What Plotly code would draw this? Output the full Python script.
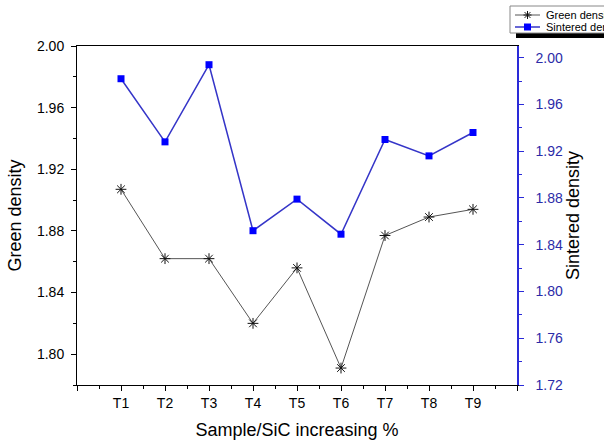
import plotly.graph_objects as go

samples = ["T1", "T2", "T3", "T4", "T5", "T6", "T7", "T8", "T9"]
sample_pos = [1, 2, 3, 4, 5, 6, 7, 8, 9]
green_density = [1.907, 1.862, 1.862, 1.820, 1.856, 1.791, 1.877, 1.889, 1.894]
sintered_density = [1.982, 1.928, 1.994, 1.852, 1.879, 1.849, 1.930, 1.916, 1.936]
legend_names = ["Green density", "Sintered density"]

FONT = "Liberation Sans, Arial, sans-serif"
BLUE_LINE = "#2a2ad8"
BLUE_TEXT = "#2b2ba8"
GREEN_LINE = "#555555"
GREEN_MARK = "#111111"
SINT_LINE = "#3535c8"
SINT_MARK = "#0000ff"

# plot area in pixels
L, R, T, B, W, H = 77, 87, 46, 58, 604, 443
PW, PH = W - L - R, H - T - B


def px(x):
    return (x - L) / PW


def py(y):
    return (H - B - y) / PH


fig = go.Figure()

fig.add_trace(go.Scatter(
    x=sample_pos, y=green_density, name=legend_names[0],
    mode="lines+markers",
    line=dict(color=GREEN_LINE, width=1),
    marker=dict(symbol="asterisk-open", size=9, color=GREEN_MARK,
                line=dict(color=GREEN_MARK, width=1)),
    yaxis="y", showlegend=False,
))

fig.add_trace(go.Scatter(
    x=sample_pos, y=sintered_density, name=legend_names[1],
    mode="lines+markers",
    line=dict(color=SINT_LINE, width=1.5),
    marker=dict(symbol="square", size=7, color=SINT_MARK),
    yaxis="y2", showlegend=False,
))

# compact legend box in the top-right corner, with a dark shadow bar below it
shapes = [
    dict(type="rect", xref="paper", yref="paper",
         x0=px(516), x1=px(640), y0=py(38), y1=py(33),
         fillcolor="black", line=dict(width=0)),
    dict(type="rect", xref="paper", yref="paper",
         x0=px(510), x1=px(640), y0=py(33), y1=py(6),
         fillcolor="white", line=dict(color="#888888", width=1)),
]
row1, row2, sx0, sx1, sc = 15, 27, 515, 540, 527.5
shapes.append(dict(type="line", xref="paper", yref="paper",
                   x0=px(sx0), x1=px(sx1), y0=py(row1), y1=py(row1),
                   line=dict(color=GREEN_LINE, width=1)))
r = 4
for dx, dy in [(0, r), (r, 0), (r * 0.72, r * 0.72), (r * 0.72, -r * 0.72)]:
    shapes.append(dict(type="line", xref="paper", yref="paper",
                       x0=px(sc - dx), x1=px(sc + dx),
                       y0=py(row1 - dy), y1=py(row1 + dy),
                       line=dict(color=GREEN_MARK, width=1)))
shapes.append(dict(type="line", xref="paper", yref="paper",
                   x0=px(sx0), x1=px(sx1), y0=py(row2), y1=py(row2),
                   line=dict(color=SINT_LINE, width=1.5)))
shapes.append(dict(type="rect", xref="paper", yref="paper",
                   x0=px(sc - 3.5), x1=px(sc + 3.5),
                   y0=py(row2 + 3.5), y1=py(row2 - 3.5),
                   fillcolor=SINT_MARK, line=dict(width=0)))

annotations = [
    dict(text=name, xref="paper", yref="paper", x=px(544), y=py(yy),
         xanchor="left", yanchor="middle", showarrow=False,
         font=dict(family=FONT, size=11, color="black"))
    for name, yy in zip(legend_names, [row1, row2])
]

fig.update_layout(
    width=W, height=H,
    margin=dict(l=L, r=R, t=T, b=B, autoexpand=False),
    paper_bgcolor="white", plot_bgcolor="white",
    font=dict(family=FONT, size=14, color="black"),
    showlegend=False,
    shapes=shapes,
    annotations=annotations,
    xaxis=dict(
        range=[0, 10],
        tickvals=[0] + sample_pos + [10],
        ticktext=[""] + samples + [""],
        ticks="outside", ticklen=5, tickwidth=1, tickcolor="black",
        minor=dict(dtick=0.5, tick0=0, ticks="outside", ticklen=3,
                   tickcolor="black", tickwidth=1),
        showline=True, linecolor="black", linewidth=1, mirror=True,
        showgrid=False, zeroline=False,
        tickfont=dict(size=14),
        title=dict(text="Sample/SiC increasing %", font=dict(size=18), standoff=13),
    ),
    yaxis=dict(
        range=[1.78, 2.00],
        tickvals=[1.80, 1.84, 1.88, 1.92, 1.96, 2.00],
        tickformat=".2f",
        ticks="outside", ticklen=5, tickwidth=1, tickcolor="black",
        minor=dict(tickvals=[1.78, 1.82, 1.86, 1.90, 1.94, 1.98],
                   ticks="outside", ticklen=3, tickcolor="black", tickwidth=1),
        showline=True, linecolor="black", linewidth=1,
        showgrid=False, zeroline=False,
        ticklabelstandoff=4,
        tickfont=dict(size=14),
        title=dict(text="Green density", font=dict(size=18), standoff=10),
    ),
    yaxis2=dict(
        overlaying="y", side="right", anchor="x",
        range=[1.72, 2.01],
        tickvals=[1.72, 1.76, 1.80, 1.84, 1.88, 1.92, 1.96, 2.00],
        tickformat=".2f",
        ticks="outside", ticklen=5, tickwidth=1, tickcolor=BLUE_LINE,
        minor=dict(tickvals=[1.74, 1.78, 1.82, 1.86, 1.90, 1.94, 1.98],
                   ticks="outside", ticklen=3, tickcolor=BLUE_LINE, tickwidth=1),
        showline=True, linecolor=BLUE_LINE, linewidth=1.5,
        showgrid=False, zeroline=False,
        ticklabelstandoff=9,
        tickfont=dict(size=14, color=BLUE_TEXT),
        title=dict(text="Sintered density", font=dict(size=18, color="black"), standoff=4),
    ),
)

fig.write_html("out.html")
